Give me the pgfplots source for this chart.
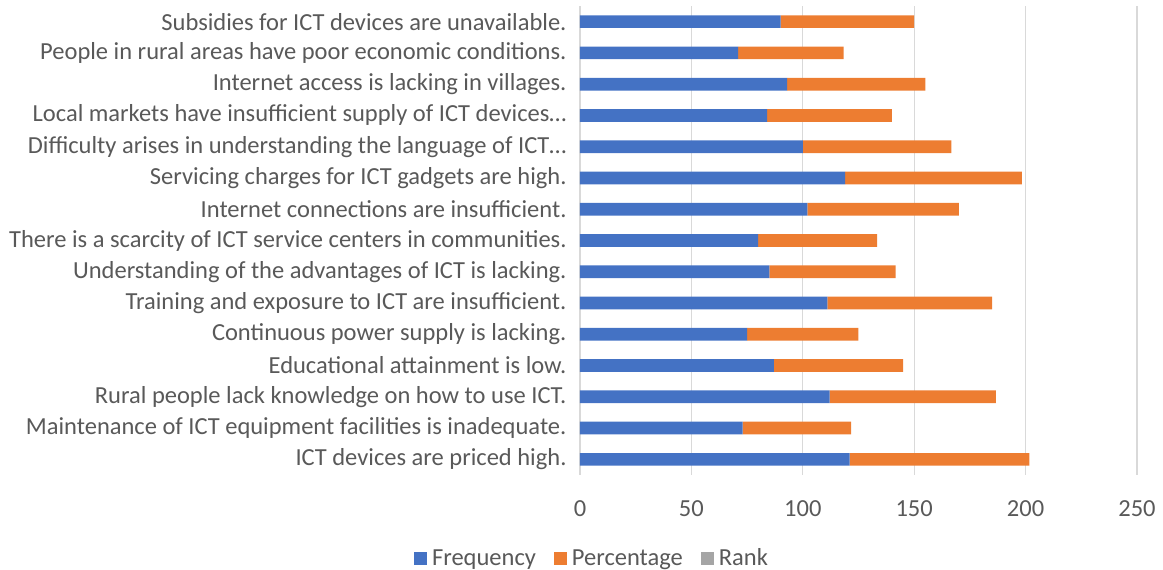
\documentclass[border=0pt]{standalone}
\usepackage{pgfplots}
\pgfplotsset{compat=1.18}
\usepackage{fontspec}
\setmainfont{Carlito}
\definecolor{cblue}{HTML}{4472C4}
\definecolor{corange}{HTML}{ED7D31}
\definecolor{cgray}{HTML}{A5A5A5}
\definecolor{ctext}{HTML}{595959}
\definecolor{cgrid}{HTML}{D9D9D9}
\begin{document}
\begin{tikzpicture}[x=1pt,y=1pt]
\path[use as bounding box] (0,0) rectangle (1163,570);
\begin{axis}[
  at={(580pt,95pt)}, anchor=south west,
  scale only axis, width=557pt, height=469pt,
  xbar stacked, bar width=12.7pt,
  xmin=0, xmax=250, ymin=-0.5, ymax=14.5,
  xtick={0,50,...,250},
  ytick={0,...,14},
  yticklabels={
    ICT devices are priced high.,
    Maintenance of ICT equipment facilities is inadequate.,
    Rural people lack knowledge on how to use ICT.,
    Educational attainment is low.,
    Continuous power supply is lacking.,
    Training and exposure to ICT are insufficient.,
    Understanding of the advantages of ICT is lacking.,
    There is a scarcity of ICT service centers in communities.,
    Internet connections are insufficient.,
    Servicing charges for ICT gadgets are high.,
    Difficulty arises in understanding the language of ICT\ldots,
    Local markets have insufficient supply of ICT devices\ldots,
    Internet access is lacking in villages.,
    People in rural areas have poor economic conditions.,
    Subsidies for ICT devices are unavailable.},
  axis line style={draw=none},
  tick style={draw=none},
  xmajorgrids, grid style={cgrid, line width=1.3pt},
  ticklabel style={font=\fontsize{24.5}{28}\selectfont, text=ctext},
  yticklabel style={xshift=-10pt},
  xticklabel style={yshift=-22pt},
  /pgf/number format/assume math mode=true,
  legend style={at={(0.0215,-0.177)}, anchor=center, draw=none,
    font=\fontsize{24.5}{28}\selectfont, text=ctext, legend columns=3,
    /tikz/every odd column/.append style={column sep=3pt},
    /tikz/every even column/.append style={column sep=16pt}},
  legend image code/.code={\fill[#1] (0pt,-6.5pt) rectangle (13pt,6.5pt);},
]
\addplot[fill=cblue, draw=none] coordinates {
 (121,0) (73,1) (112,2) (87,3) (75,4) (111,5) (85,6) (80,7) (102,8) (119,9) (100,10) (84,11) (93,12) (71,13) (90,14)};
\addplot[fill=corange, draw=none] coordinates {
 (80.67,0) (48.67,1) (74.67,2) (58,3) (50,4) (74,5) (56.67,6) (53.33,7) (68,8) (79.33,9) (66.67,10) (56,11) (62,12) (47.33,13) (60,14)};
\addlegendentry{Frequency}
\addlegendentry{Percentage}
\addlegendimage{fill=cgray, draw=none}
\addlegendentry{Rank}
\end{axis}
\end{tikzpicture}
\end{document}
